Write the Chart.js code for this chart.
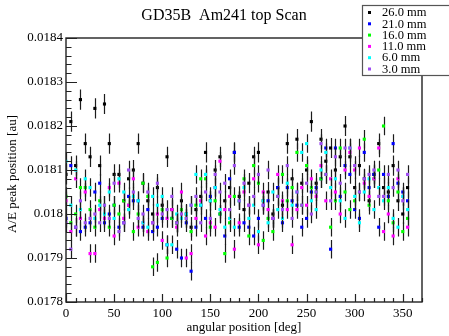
<!DOCTYPE html>
<html>
<head>
<meta charset="utf-8">
<script src="https://cdn.jsdelivr.net/npm/chart.js@4/dist/chart.umd.min.js"></script>
<style>
  html, body { margin: 0; padding: 0; background: #fff; }
  canvas { display: block; }
</style>
</head>
<body>
<canvas id="scan" width="449" height="336"></canvas>
<script>
// angular positions [deg]
const angles = [0, 5, 10, 15, 20, 25, 30, 35, 40, 45, 50, 55, 60, 65, 70, 75, 80, 85,
  90, 95, 100, 105, 110, 115, 120, 125, 130, 135, 140, 145, 150, 155, 160, 165, 170, 175,
  180, 185, 190, 195, 200, 205, 210, 215, 220, 225, 230, 235, 240, 245, 250, 255, 260, 265,
  270, 275, 280, 285, 290, 295, 300, 305, 310, 315, 320, 325, 330, 335, 340, 345, 350, 355];

// A/E peak position for each scan height
const scan26 = [0.01809, 0.01821, 0.01811, 0.01826, 0.01816, 0.01813, 0.01824, 0.01811, 0.01825, 0.01816,
  0.01809, 0.01809, 0.01803, 0.01808, 0.01810, 0.01816, 0.01807, 0.01803, 0.01800, 0.01806,
  0.01802, 0.01813, 0.01801, 0.01798, 0.01803, 0.01800, 0.01797, 0.01801, 0.01804, 0.01814,
  0.01803, 0.01810, 0.01813, 0.01803, 0.01806, 0.01814, 0.01804, 0.01801, 0.01807, 0.01813,
  0.01814, 0.01803, 0.01805, 0.01800, 0.01806, 0.01802, 0.01816, 0.01808, 0.01817, 0.01807,
  0.01810, 0.01821, 0.01807, 0.01817, 0.01812, 0.01815, 0.01810, 0.01813, 0.01820, 0.01813,
  0.01806, 0.01811, 0.01808, 0.01803, 0.01809, 0.01816, 0.01806, 0.01805, 0.01811, 0.01803,
  0.01800, 0.01806];
const scan21 = [0.01799, 0.01811, 0.01797, 0.01796, 0.01797, 0.01798, 0.01805, 0.01807, 0.01798, 0.01800,
  0.01802, 0.01797, 0.01798, 0.01804, 0.01803, 0.01803, 0.01797, 0.01801, 0.01796, 0.01797,
  0.01799, 0.01793, 0.01799, 0.01792, 0.01790, 0.01798, 0.01787, 0.01797, 0.01802, 0.01799,
  0.01804, 0.01806, 0.01800, 0.01795, 0.01808, 0.01814, 0.01797, 0.01798, 0.01797, 0.01795,
  0.01799, 0.01802, 0.01803, 0.01799, 0.01806, 0.01798, 0.01806, 0.01803, 0.01802, 0.01797,
  0.01799, 0.01805, 0.01806, 0.01808, 0.01815, 0.01792, 0.01815, 0.01804, 0.01811, 0.01809,
  0.01801, 0.01799, 0.01814, 0.01806, 0.01809, 0.01797, 0.01809, 0.01804, 0.01816, 0.01807,
  0.01805, 0.01803];
const scan16 = [0.01804, 0.01798, 0.01800, 0.01806, 0.01806, 0.01801, 0.01797, 0.01803, 0.01802, 0.01797,
  0.01802, 0.01800, 0.01803, 0.01802, 0.01796, 0.01800, 0.01807, 0.01804, 0.01788, 0.01789,
  0.01801, 0.01790, 0.01799, 0.01798, 0.01801, 0.01799, 0.01796, 0.01802, 0.01808, 0.01808,
  0.01797, 0.01803, 0.01800, 0.01791, 0.01798, 0.01804, 0.01803, 0.01808, 0.01795, 0.01811,
  0.01807, 0.01794, 0.01799, 0.01796, 0.01804, 0.01809, 0.01803, 0.01806, 0.01814, 0.01802,
  0.01811, 0.01806, 0.01805, 0.01808, 0.01809, 0.01797, 0.01803, 0.01815, 0.01805, 0.01801,
  0.01803, 0.01805, 0.01817, 0.01802, 0.01808, 0.01810, 0.01820, 0.01803, 0.01798, 0.01805,
  0.01796, 0.01799];
const scan11 = [0.01803, 0.01796, 0.01808, 0.01799, 0.01805, 0.01791, 0.01791, 0.01801, 0.01799, 0.01806,
  0.01795, 0.01807, 0.01799, 0.01802, 0.01808, 0.01797, 0.01798, 0.01796, 0.01798, 0.01800,
  0.01794, 0.01799, 0.01801, 0.01797, 0.01805, 0.01790, 0.01791, 0.01799, 0.01803, 0.01795,
  0.01798, 0.01797, 0.01812, 0.01801, 0.01804, 0.01792, 0.01798, 0.01805, 0.01802, 0.01808,
  0.01793, 0.01805, 0.01801, 0.01799, 0.01809, 0.01803, 0.01801, 0.01793, 0.01801, 0.01806,
  0.01802, 0.01808, 0.01804, 0.01811, 0.01803, 0.01808, 0.01805, 0.01800, 0.01810, 0.01814,
  0.01810, 0.01815, 0.01807, 0.01804, 0.01808, 0.01815, 0.01796, 0.01800, 0.01795, 0.01808,
  0.01804, 0.01797];
const scan6 = [0.01812, 0.01802, 0.01810, 0.01801, 0.01808, 0.01806, 0.01799, 0.01802, 0.01800, 0.01805,
  0.01799, 0.01808, 0.01805, 0.01801, 0.01804, 0.01803, 0.01798, 0.01797, 0.01804, 0.01802,
  0.01804, 0.01793, 0.01793, 0.01800, 0.01799, 0.01800, 0.01802, 0.01809, 0.01802, 0.01809,
  0.01803, 0.01806, 0.01801, 0.01797, 0.01799, 0.01797, 0.01803, 0.01806, 0.01799, 0.01802,
  0.01796, 0.01803, 0.01798, 0.01805, 0.01801, 0.01799, 0.01807, 0.01802, 0.01805, 0.01814,
  0.01816, 0.01803, 0.01801, 0.01810, 0.01814, 0.01806, 0.01808, 0.01803, 0.01799, 0.01815,
  0.01804, 0.01798, 0.01805, 0.01808, 0.01801, 0.01806, 0.01803, 0.01806, 0.01799, 0.01797,
  0.01804, 0.01801];
const scan3 = [0.01798, 0.01792, 0.01797, 0.01803, 0.01798, 0.01799, 0.01800, 0.01798, 0.01802, 0.01799,
  0.01807, 0.01796, 0.01798, 0.01810, 0.01805, 0.01799, 0.01800, 0.01805, 0.01798, 0.01807,
  0.01800, 0.01801, 0.01804, 0.01798, 0.01800, 0.01799, 0.01802, 0.01804, 0.01798, 0.01805,
  0.01799, 0.01809, 0.01805, 0.01807, 0.01801, 0.01811, 0.01803, 0.01807, 0.01802, 0.01804,
  0.01809, 0.01802, 0.01810, 0.01799, 0.01804, 0.01801, 0.01811, 0.01799, 0.01805, 0.01802,
  0.01807, 0.01800, 0.01805, 0.01816, 0.01809, 0.01803, 0.01813, 0.01807, 0.01815, 0.01815,
  0.01811, 0.01805, 0.01808, 0.01809, 0.01810, 0.01804, 0.01804, 0.01809, 0.01806, 0.01810,
  0.01803, 0.01809];

const seriesNames = ['26.0 mm', '21.0 mm', '16.0 mm', '11.0 mm', '6.0 mm', '3.0 mm'];
const seriesValues = [scan26, scan21, scan16, scan11, scan6, scan3];
const seriesColors = ['#000000', '#0000ff', '#00ff00', '#ff00ff', '#00ffff', '#9e4cf2'];
const seriesErrors = [0.000023, 0.000021, 0.000021, 0.000021, 0.000021, 0.000021];

const xTicks = [0, 50, 100, 150, 200, 250, 300, 350];
const yTicks = [0.0178, 0.0179, 0.018, 0.0181, 0.0182, 0.0183, 0.0184];
const yTickLabels = ['0.0178', '0.0179', '0.018', '0.0181', '0.0182', '0.0183', '0.0184'];

const serif = '"Liberation Serif", "DejaVu Serif", serif';
Chart.defaults.font.family = serif;
Chart.defaults.font.size = 13;
Chart.defaults.color = '#000';

// error bars, ROOT-like frame with inward ticks, titles and legend box
const rootStyle = {
  id: 'rootStyle',
  beforeDatasetDraw(chart, args) {
    const ctx = chart.ctx;
    const ys = chart.scales.y;
    const vals = chart.data.datasets[args.index].data;
    const err = seriesErrors[args.index];
    ctx.save();
    ctx.strokeStyle = '#1c1c1c';
    ctx.lineWidth = 1.2;
    ctx.beginPath();
    args.meta.data.forEach((pt, k) => {
      const x = Math.round(pt.x) + 0.5;
      ctx.moveTo(x, ys.getPixelForValue(vals[k].y + err));
      ctx.lineTo(x, ys.getPixelForValue(vals[k].y - err));
    });
    ctx.stroke();
    ctx.restore();
  },
  afterDraw(chart) {
    const ctx = chart.ctx;
    const a = chart.chartArea;
    const xs = chart.scales.x, ys = chart.scales.y;
    ctx.save();
    ctx.strokeStyle = '#222';
    ctx.lineWidth = 1.4;
    ctx.strokeRect(a.left, a.top, a.right - a.left, a.bottom - a.top);

    // inward ticks
    ctx.lineWidth = 1.2;
    ctx.beginPath();
    for (let d = 0; d <= 370; d += 10) {
      const px = Math.round(xs.getPixelForValue(d)) + 0.5;
      const len = d % 50 === 0 ? 8 : 4;
      ctx.moveTo(px, a.bottom);
      ctx.lineTo(px, a.bottom - len);
    }
    for (let s = 0; s <= 30; s++) {
      const py = Math.round(ys.getPixelForValue(0.0178 + s * 0.00002)) + 0.5;
      const len = s % 5 === 0 ? 11 : 5.5;
      ctx.moveTo(a.left, py);
      ctx.lineTo(a.left + len, py);
    }
    ctx.stroke();

    // titles
    ctx.fillStyle = '#000';
    ctx.textAlign = 'center';
    ctx.textBaseline = 'middle';
    ctx.font = '16px ' + serif;
    ctx.fillText('GD35B  Am241 top Scan', 224, 16);
    ctx.font = '13px ' + serif;
    ctx.fillText('angular position [deg]', (a.left + a.right) / 2, 328);
    ctx.save();
    ctx.translate(13, (a.top + a.bottom) / 2 + 4);
    ctx.rotate(-Math.PI / 2);
    ctx.fillText('A/E peak position [au]', 0, 0);
    ctx.restore();

    // legend box
    ctx.fillStyle = '#fff';
    ctx.fillRect(362, 5, 90, 70);
    ctx.strokeStyle = '#555';
    ctx.lineWidth = 1.2;
    ctx.strokeRect(362.5, 5.5, 90, 70);
    ctx.font = '12.5px ' + serif;
    ctx.textAlign = 'left';
    seriesNames.forEach((name, i) => {
      const cy = 12.5 + i * 11.3;
      ctx.fillStyle = seriesColors[i];
      ctx.fillRect(368, cy - 1.5, 3, 3);
      ctx.fillStyle = '#000';
      ctx.fillText(name, 382, cy + 0.5);
    });
    ctx.restore();
  }
};

new Chart(document.getElementById('scan'), {
  type: 'scatter',
  data: {
    datasets: seriesValues.map((vals, i) => ({
      label: seriesNames[i],
      data: vals.map((v, k) => ({ x: angles[k], y: v })),
      backgroundColor: seriesColors[i],
      borderWidth: 0,
      pointStyle: 'rect',
      pointRadius: 2.2,
      order: seriesValues.length - i
    }))
  },
  options: {
    responsive: false,
    animation: false,
    events: [],
    layout: { padding: { top: 38, right: 27, left: 0, bottom: 0 } },
    plugins: {
      legend: { display: false },
      tooltip: { enabled: false },
      title: { display: false }
    },
    scales: {
      x: {
        type: 'linear',
        min: 0,
        max: 370,
        grid: { display: false, drawTicks: false },
        border: { display: false },
        afterBuildTicks: (scale) => { scale.ticks = xTicks.map(v => ({ value: v })); },
        afterFit: (scale) => { scale.height = 34; },
        ticks: { padding: 4, maxRotation: 0, autoSkip: false, font: { size: 13 } }
      },
      y: {
        min: 0.0178,
        max: 0.0184,
        grid: { display: false, drawTicks: false },
        border: { display: false },
        afterBuildTicks: (scale) => { scale.ticks = yTicks.map(v => ({ value: v })); },
        afterFit: (scale) => { scale.width = 66; },
        ticks: {
          padding: 3,
          autoSkip: false,
          font: { size: 13 },
          callback: (v) => {
            const i = yTicks.findIndex(t => Math.abs(t - v) < 1e-9);
            return i >= 0 ? yTickLabels[i] : '';
          }
        }
      }
    }
  },
  plugins: [rootStyle]
});
</script>
</body>
</html>
